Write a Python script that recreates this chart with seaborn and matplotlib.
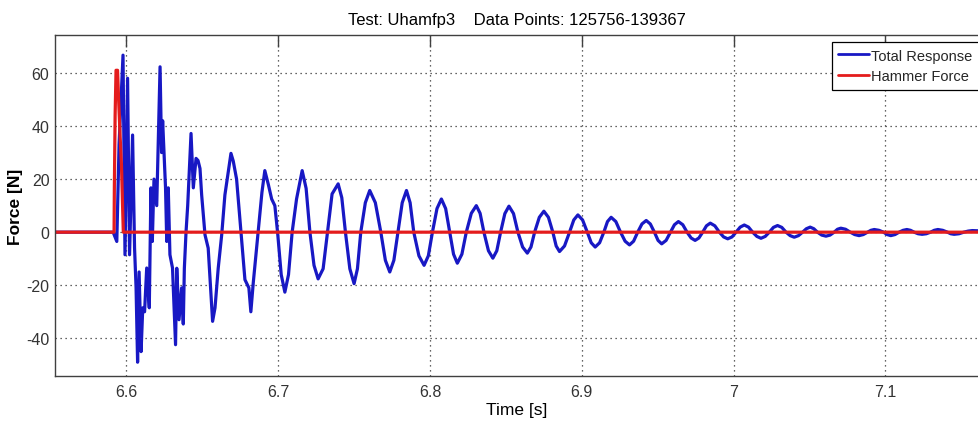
import numpy as np
import pandas as pd
import matplotlib
matplotlib.use("Agg")
import matplotlib.pyplot as plt
import seaborn as sns

# ---------------- data ----------------
title_text = "Test: Uhamfp3    Data Points: 125756-139367"
series_names = ["Total Response", "Hammer Force"]
x_ticks = [6.6, 6.7, 6.8, 6.9, 7.0, 7.1]
x_tick_labels = ["6.6", "6.7", "6.8", "6.9", "7", "7.1"]
y_ticks = [-40, -20, 0, 20, 40, 60]
y_tick_labels = ["-40", "-20", "0", "20", "40", "60"]

# Total response: impact transient (noisy part)
resp_t_early = [6.5530, 6.5913, 6.5937, 6.5952, 6.5978, 6.5991, 6.6008, 6.6021, 6.6041, 6.6054,
                6.6064, 6.6074, 6.6084, 6.6097, 6.6108, 6.6120, 6.6134, 6.6151, 6.6162, 6.6171,
                6.6182, 6.6200, 6.6222, 6.6232, 6.6239, 6.6248, 6.6258, 6.6266, 6.6276, 6.6287,
                6.6304, 6.6324, 6.6332, 6.6347, 6.6364, 6.6375, 6.6382, 6.6393, 6.6404, 6.6426,
                6.6441, 6.6459, 6.6472, 6.6485, 6.6496, 6.6518, 6.6539, 6.6568, 6.6584, 6.6605,
                6.6628, 6.6649, 6.6689, 6.6704, 6.6726, 6.6755, 6.6781, 6.6807, 6.6820, 6.6836,
                6.6868, 6.6893]
resp_f_early = [0.0, 0.0, -3.5, 33.0, 66.7, -8.5, 58.0, -8.5, 36.6, -6.0,
                -21.0, -49.0, -15.0, -45.0, -28.5, -30.0, -13.5, -28.5, 16.7, -3.5,
                20.0, 10.0, 62.3, 30.0, 42.0, 30.0, 16.7, -3.5, 16.7, -8.5,
                -13.5, -42.4, -13.6, -33.0, -21.0, -34.6, -13.6, 0.0, 10.0, 37.2,
                16.7, 27.8, 27.0, 24.0, 14.0, -1.0, -6.0, -33.6, -28.5, -13.6,
                -1.0, 14.0, 29.7, 26.8, 20.0, 0.0, -17.9, -21.0, -30.0, -19.0,
                0.0, 15.0]

# Total response: free decay (peaks, troughs, shoulders, zero crossings)
resp_t_decay = [6.6912, 6.6935, 6.6957, 6.6978, 6.6996, 6.7020, 6.7044, 6.7068, 6.7092, 6.7121,
                6.7158, 6.7184, 6.7209, 6.7236, 6.7263, 6.7296, 6.7325, 6.7355, 6.7395, 6.7419,
                6.7443, 6.7472, 6.7500, 6.7522, 6.7544, 6.7574, 6.7603, 6.7640, 6.7676, 6.7706,
                6.7735, 6.7762, 6.7789, 6.7817, 6.7845, 6.7869, 6.7893, 6.7927, 6.7961, 6.7989,
                6.8016, 6.8046, 6.8075, 6.8103, 6.8130, 6.8155, 6.8180, 6.8210, 6.8239, 6.8272,
                6.8305, 6.8330, 6.8355, 6.8385, 6.8414, 6.8440, 6.8465, 6.8493, 6.8520, 6.8550,
                6.8579, 6.8610, 6.8641, 6.8665, 6.8689, 6.8720, 6.8750, 6.8780, 6.8809, 6.8831,
                6.8853, 6.8886, 6.8919, 6.8947, 6.8974, 6.9005, 6.9036, 6.9062, 6.9088, 6.9117,
                6.9145, 6.9169, 6.9193, 6.9224, 6.9255, 6.9285, 6.9314, 6.9341, 6.9368, 6.9396,
                6.9424, 6.9451, 6.9478, 6.9502, 6.9526, 6.9555, 6.9584, 6.9610, 6.9636, 6.9665,
                6.9693, 6.9720, 6.9746, 6.9771, 6.9796, 6.9821, 6.9846, 6.9876, 6.9906, 6.9934,
                6.9961, 6.9989, 7.0016, 7.0043, 7.0070, 7.0098, 7.0125, 7.0153, 7.0180, 7.0208,
                7.0235, 7.0262, 7.0289, 7.0317, 7.0345, 7.0372, 7.0399, 7.0427, 7.0454, 7.0479,
                7.0504, 7.0528, 7.0552, 7.0580, 7.0608, 7.0635, 7.0662, 7.0684, 7.0706, 7.0737,
                7.0768, 7.0797, 7.0826, 7.0854, 7.0882, 7.0904, 7.0926, 7.0957, 7.0987, 7.1011,
                7.1035, 7.1063, 7.1090, 7.1116, 7.1141, 7.1165, 7.1189, 7.1215, 7.1241, 7.1269,
                7.1297, 7.1321, 7.1345, 7.1377, 7.1408, 7.1430, 7.1452, 7.1484, 7.1516, 7.1544,
                7.1572, 7.1616]
resp_f_decay = [23.2, 18.0, 12.5, 10.0, 0.0, -16.0, -22.6, -16.0, 0.0, 12.5,
                23.2, 16.5, 0.0, -12.5, -17.6, -13.8, 0.0, 14.4, 18.2, 13.0,
                0.0, -13.8, -19.4, -13.8, 0.0, 11.1, 15.7, 11.1, 0.0, -10.6,
                -15.0, -10.6, 0.0, 11.1, 15.7, 11.1, 0.0, -8.9, -12.5, -8.9,
                0.0, 8.9, 12.5, 8.9, 0.0, -8.3, -11.7, -8.3, 0.0, 7.1,
                10.0, 7.1, 0.0, -7.0, -9.8, -7.0, 0.0, 7.0, 9.8, 7.0,
                0.0, -5.6, -7.9, -5.6, 0.0, 5.6, 7.9, 5.6, 0.0, -5.2,
                -7.3, -5.2, 0.0, 4.6, 6.5, 4.6, 0.0, -4.0, -5.6, -4.0,
                0.0, 4.0, 5.6, 4.0, 0.0, -3.4, -4.8, -3.4, 0.0, 3.1,
                4.4, 3.1, 0.0, -3.1, -4.4, -3.1, 0.0, 2.8, 4.0, 2.8,
                0.0, -2.2, -3.1, -2.2, 0.0, 2.4, 3.4, 2.4, 0.0, -1.8,
                -2.5, -1.8, 0.0, 1.9, 2.7, 1.9, 0.0, -1.6, -2.3, -1.6,
                0.0, 1.8, 2.5, 1.8, 0.0, -1.3, -1.9, -1.3, 0.0, 1.3,
                1.9, 1.3, 0.0, -1.1, -1.5, -1.1, 0.0, 1.1, 1.5, 1.1,
                0.0, -0.9, -1.3, -0.9, 0.0, 0.7, 1.0, 0.7, 0.0, -0.9,
                -1.3, -0.9, 0.0, 0.7, 1.0, 0.7, 0.0, -0.6, -0.8, -0.6,
                0.0, 0.7, 1.0, 0.7, 0.0, -0.6, -0.8, -0.6, 0.0, 0.4,
                0.6, 0.5]

hammer_t = [6.5530, 6.5919, 6.5921, 6.5926, 6.5932, 6.5942, 6.5949, 6.5959, 6.5968,
            6.5975, 6.5980, 7.1616]
hammer_f = [0.0, 0.0, 17.0, 44.0, 61.0, 61.0, 50.0, 36.0, 25.0, 10.0, 0.0, 0.0]

# ---------------- figure ----------------
sns.set_style("white")
plt.rcParams["font.family"] = ["Liberation Sans", "DejaVu Sans"]

W, H = 979, 427
fig = plt.figure(figsize=(W / 100, H / 100), dpi=100)
ax = fig.add_axes([55 / W, (H - 377) / H, (W - 55) / W, (377 - 36) / H])

df = pd.concat([
    pd.DataFrame({"t": resp_t_early + resp_t_decay, "f": resp_f_early + resp_f_decay,
                  "s": series_names[0]}),
    pd.DataFrame({"t": hammer_t, "f": hammer_f, "s": series_names[1]}),
], ignore_index=True)

sns.lineplot(data=df, x="t", y="f", hue="s", hue_order=series_names,
             palette=["#1818c4", "#e41c1c"], estimator=None, sort=False,
             linewidth=2.3, ax=ax, legend=True)

ax.set_xlim(6.553, 7.1616)
ax.set_ylim(-54.2, 74.3)
ax.set_xticks(x_ticks)
ax.set_xticklabels(x_tick_labels)
ax.set_yticks(y_ticks)
ax.set_yticklabels(y_tick_labels)

ax.grid(True, linestyle=(0, (1, 3)), color="#333333", linewidth=0.9)
ax.set_axisbelow(True)

for side in ["left", "bottom", "top"]:
    ax.spines[side].set_visible(True)
    ax.spines[side].set_color("#404040")
    ax.spines[side].set_linewidth(1.0)
ax.spines["right"].set_visible(False)

ax.tick_params(axis="x", direction="in", length=8.5, width=1.0, color="#404040",
               labelsize=11.5, labelcolor="#333333", top=True, pad=6)
ax.tick_params(axis="y", direction="in", length=6, width=1.0, color="#404040",
               labelsize=11.5, labelcolor="#333333", pad=4)

ax.set_xlabel("Time [s]", fontsize=12.5, color="black", labelpad=2)
ax.set_ylabel("Force [N]", fontsize=12.5, fontweight="bold", color="black", labelpad=2)
ax.set_title(title_text, fontsize=12, color="black", pad=8)

leg = ax.legend(loc="upper right", bbox_to_anchor=(1.0, 1 - 7 / 341),
                fontsize=10.5, frameon=True, fancybox=False, edgecolor="black",
                framealpha=1, handlelength=2.1, handletextpad=0.15,
                borderpad=0.45, labelspacing=0.45, borderaxespad=0)
leg.get_frame().set_linewidth(0.9)
for line in leg.get_lines():
    line.set_linewidth(2.0)

fig.savefig("out.png", dpi=100)
